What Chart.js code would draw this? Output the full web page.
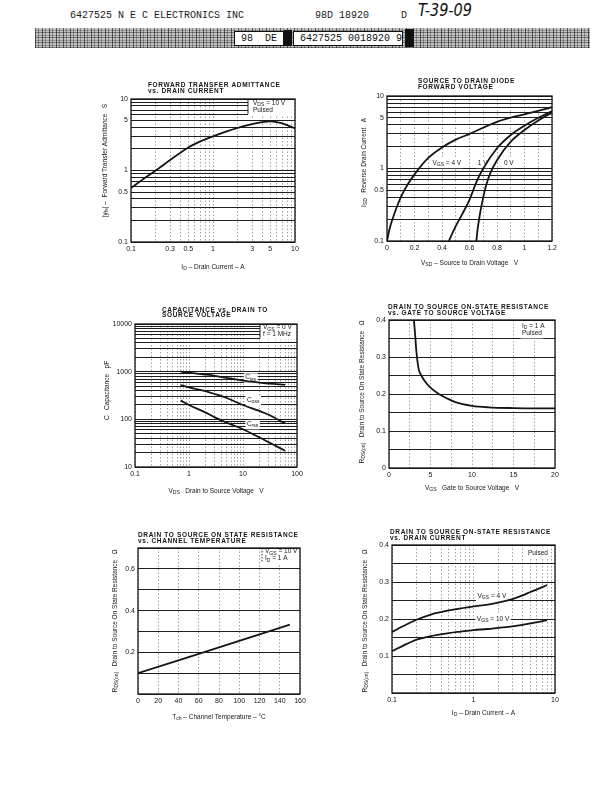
<!DOCTYPE html>
<html>
<head>
<meta charset="utf-8">
<script src="https://cdn.jsdelivr.net/npm/chart.js@4.4.1/dist/chart.umd.min.js"></script>
<style>
body { margin: 0; background: #fff; width: 614px; height: 792px; position: relative; overflow: hidden; }
canvas { position: absolute; }
.hd { position: absolute; font-family: "Liberation Mono", "DejaVu Sans Mono", monospace; color: #1a1a1a; white-space: pre; }
#band { position: absolute; left: 35px; top: 28px; width: 555px; height: 20px;
  background:
    repeating-linear-gradient(90deg, rgba(0,0,0,.55) 0 1px, transparent 1px 3px, rgba(0,0,0,.3) 3px 4px, transparent 4px 7px),
    repeating-linear-gradient(0deg, rgba(0,0,0,.4) 0 1px, transparent 1px 2px, rgba(0,0,0,.25) 2px 3px, transparent 3px 5px),
    #c4c4c4; }
.wbox { position: absolute; background: #fff; border: 1px solid #111; font-family: "Liberation Mono", monospace; font-size: 10px; line-height: 13px; white-space: pre; color: #111; }
.blk { position: absolute; background: #111; }
</style>
</head>
<body>
<div class="hd" style="left:70px;top:10px;font-size:10px;">6427525 N E C ELECTRONICS INC</div>
<div class="hd" style="left:315px;top:10px;font-size:10px;">98D 18920</div>
<div class="hd" style="left:401px;top:10px;font-size:10px;">D</div>
<div style="position:absolute;left:418px;top:0px;font:italic 17px 'DejaVu Sans';color:#111;transform:scaleX(0.85);transform-origin:left;">T-39-09</div>
<div id="band"></div>
<div class="wbox" style="left:234px;top:31px;width:48px;height:13px;"> 98  DE</div>
<div class="blk" style="left:284px;top:30px;width:8px;height:16px;"></div>
<div class="wbox" style="left:293px;top:31px;width:108px;height:13px;"> 6427525 0018920 9</div>
<div class="blk" style="left:405px;top:29px;width:9px;height:18px;"></div>

<canvas id="c1"></canvas>
<canvas id="c2"></canvas>
<canvas id="c3"></canvas>
<canvas id="c4"></canvas>
<canvas id="c5"></canvas>
<canvas id="c6"></canvas>

<script>
// forward transfer admittance vs drain current (VDS = 10 V, pulsed)
const yfsCurrent = [0.1, 0.15, 0.2, 0.3, 0.5, 0.7, 1, 1.5, 2, 3, 4, 5, 7, 10];
const yfsValue   = [0.57, 0.8, 1.0, 1.4, 2.1, 2.55, 3.0, 3.55, 3.95, 4.45, 4.75, 4.85, 4.55, 3.9];

// source to drain diode forward voltage
const vsdAt4V = [0, 0.02, 0.04, 0.07, 0.1, 0.15, 0.2, 0.3, 0.4, 0.5, 0.6, 0.8, 1.0, 1.2];
const isdAt4V = [0.1, 0.15, 0.2, 0.29, 0.4, 0.6, 0.83, 1.4, 1.95, 2.5, 3.0, 4.4, 5.6, 7.0];
const vsdAt1V = [0.45, 0.5, 0.55, 0.6, 0.65, 0.7, 0.8, 0.9, 1.0, 1.1, 1.2];
const isdAt1V = [0.1, 0.16, 0.24, 0.37, 0.65, 1.0, 1.9, 2.9, 3.9, 5.0, 6.2];
const vsdAt0V = [0.65, 0.66, 0.68, 0.7, 0.72, 0.75, 0.8, 0.9, 1.0, 1.1, 1.2];
const isdAt0V = [0.1, 0.15, 0.26, 0.4, 0.58, 0.85, 1.3, 2.35, 3.4, 4.6, 5.9];

// capacitance vs drain to source voltage
const capVds = [0.7, 1, 2, 3, 5, 10, 20, 30, 60];
const cissPf = [1000, 950, 870, 820, 740, 650, 590, 560, 530];
const cossPf = [520, 470, 390, 340, 280, 200, 150, 125, 82];
const crssPf = [250, 200, 140, 110, 85, 62, 42, 33, 22];

// on-state resistance vs gate voltage (ID = 1 A)
const rgVgs = [3.0, 3.15, 3.3, 3.45, 3.6, 3.9, 4.3, 5, 6, 7, 8, 10, 12, 15, 20];
const rgRds = [0.4, 0.36, 0.315, 0.285, 0.265, 0.25, 0.235, 0.217, 0.2, 0.188, 0.178, 0.168, 0.164, 0.162, 0.161];

// on-state resistance vs channel temperature
const rtTemp = [0, 50, 100, 150];
const rtRds  = [0.1, 0.177, 0.255, 0.333];

// on-state resistance vs drain current
const riCurrent = [0.1, 0.15, 0.2, 0.3, 0.5, 0.7, 1, 1.5, 2, 3, 4, 5, 7, 8];
const riAt4V    = [0.165, 0.185, 0.198, 0.212, 0.223, 0.229, 0.234, 0.239, 0.244, 0.254, 0.264, 0.273, 0.286, 0.292];
const riAt10V   = [0.113, 0.132, 0.144, 0.154, 0.162, 0.166, 0.17, 0.173, 0.176, 0.18, 0.184, 0.188, 0.194, 0.197];

// tick labels
const t1x = [0.1, 0.3, 0.5, 1, 3, 5, 10], t1y = [0.1, 0.5, 1, 5, 10];
const t2x = [0, 0.2, 0.4, 0.6, 0.8, 1.0, 1.2], t2y = [0.1, 0.5, 1, 5, 10];
const t3x = [0.1, 1, 10, 100], t3y = [10, 100, 1000, 10000];
const t4x = [0, 5, 10, 15, 20], t4y = [0, 0.1, 0.2, 0.3, 0.4];
const t5x = [0, 20, 40, 60, 80, 100, 120, 140, 160], t5y = [0.2, 0.4, 0.6];
const t6x = [0.1, 1, 10], t6y = [0.1, 0.2, 0.3, 0.4];

const FAM = '"Liberation Sans", Arial, sans-serif';
const INK = '#151515';

function logGrid(min, max) {
  const out = [];
  for (let e = Math.floor(Math.log10(min)); e <= Math.ceil(Math.log10(max)); e++) {
    for (let m = 1; m <= 9; m++) {
      const v = +(m * Math.pow(10, e)).toPrecision(6);
      if (v >= min - 1e-9 && v <= max + 1e-9) out.push(v);
    }
  }
  return out;
}
function linGrid(min, max, step) {
  const out = [];
  for (let i = 0; min + i * step <= max + 1e-9; i++) out.push(+(min + i * step).toFixed(4));
  return out;
}

// draws text made of [text, isSubscript] parts; mode 'bg' paints only the white patch behind it
function rich(ctx, parts, x, y, size, align, weight, spacing, mode) {
  const sub = size * 0.78;
  ctx.letterSpacing = (spacing || 0) + 'px';
  const font = s => (weight ? weight + ' ' : '') + s + 'px ' + FAM;
  let w = 0;
  const widths = parts.map(([t, s]) => { ctx.font = font(s ? sub : size); const m = ctx.measureText(t).width; w += m; return m; });
  let cx = align === 'center' ? x - w / 2 : align === 'right' ? x - w : x;
  if (mode === 'bg') {
    ctx.fillStyle = '#fff';
    ctx.fillRect(cx - 1.5, y - size * 0.62, w + 3, size * 1.45);
  } else {
    ctx.fillStyle = INK;
    ctx.textBaseline = 'middle';
    ctx.textAlign = 'left';
    parts.forEach(([t, s], i) => {
      ctx.font = font(s ? sub : size);
      ctx.fillText(t, cx, y + (s ? size * 0.3 : 0));
      cx += widths[i];
    });
  }
  ctx.letterSpacing = '0px';
}

function notePos(chart, n) {
  const a = chart.chartArea;
  if (n.data) return [chart.scales.x.getPixelForValue(n.x), chart.scales.y.getPixelForValue(n.y)];
  return [a.left + n.x, a.top + n.y];
}

const sheet = {
  id: 'sheet',
  beforeDatasetsDraw(chart, args, o) {
    const ctx = chart.ctx, a = chart.chartArea;
    ctx.save();
    (o.boxes || []).forEach(b => {
      ctx.fillStyle = '#fff';
      ctx.fillRect(a.left + b.x, a.top + 1, b.w, b.h);
    });
    (o.notes || []).forEach(n => {
      if (!n.bg) return;
      const [x, y] = notePos(chart, n);
      rich(ctx, n.parts, x, y, 6.5, 'left', '', 0, 'bg');
    });
    ctx.restore();
  },
  afterDraw(chart, args, o) {
    const ctx = chart.ctx, a = chart.chartArea;
    ctx.save();
    (o.boxes || []).forEach(b => {
      ctx.strokeStyle = INK; ctx.lineWidth = 0.9;
      ctx.setLineDash(b.dash || []);
      ctx.beginPath(); ctx.moveTo(a.left + b.x, a.top); ctx.lineTo(a.left + b.x, a.top + b.h); ctx.stroke();
      ctx.setLineDash([]);
    });
    ctx.strokeStyle = INK; ctx.lineWidth = 1.3;
    ctx.strokeRect(a.left, a.top, a.right - a.left, a.bottom - a.top);
    o.title.forEach((t, i) => rich(ctx, [[t, 0]], a.left + o.tx, a.top + o.ty[i], 6.5, 'left', 'bold', 0.65));
    rich(ctx, o.xTitle, (a.left + a.right) / 2 + (o.xdx || 0), a.bottom + o.xdy, 6.5, 'center');
    ctx.save();
    ctx.translate(a.left + o.ydx, (a.top + a.bottom) / 2 + (o.ydy || 0));
    ctx.rotate(-Math.PI / 2);
    rich(ctx, o.yTitle, 0, 0, 6.5, 'center');
    ctx.restore();
    (o.notes || []).forEach(n => {
      const [x, y] = notePos(chart, n);
      rich(ctx, n.parts, x, y, 6.5, 'left');
    });
    ctx.restore();
  }
};
Chart.register(sheet);

const PAD_L = 30, AX_Y = 22, PAD_T = 25, PAD_R = 10, AX_X = 12, PAD_B = 18;

function pick(labels) {
  return v => {
    const hit = labels.find(l => Math.abs(l - v) < 1e-7);
    return hit === undefined ? '' : String(hit);
  };
}

function build(id, rect, s) {
  const [L, T, W, H] = rect;
  const cv = document.getElementById(id);
  cv.width = W + PAD_L + AX_Y + PAD_R;
  cv.height = H + PAD_T + AX_X + PAD_B;
  cv.style.left = (L - PAD_L - AX_Y) + 'px';
  cv.style.top = (T - PAD_T) + 'px';
  const tickFont = { size: 7, family: FAM };
  return new Chart(cv, {
    type: 'line',
    data: {
      datasets: s.series.map(ser => ({
        data: ser.x.map((x, i) => ({ x, y: ser.y[i] })),
        borderColor: INK,
        borderWidth: 1.8,
        pointRadius: 0,
        fill: false,
        tension: ser.straight ? 0 : 0.4,
        cubicInterpolationMode: ser.straight ? 'default' : 'monotone'
      }))
    },
    options: {
      responsive: false,
      animation: false,
      events: [],
      layout: { padding: { left: PAD_L, top: PAD_T, right: PAD_R, bottom: PAD_B } },
      plugins: { legend: { display: false }, tooltip: { enabled: false }, sheet: s.sheet },
      scales: {
        x: {
          type: s.xType, min: s.xMin, max: s.xMax,
          afterBuildTicks: ax => { ax.ticks = s.xGrid.map(v => ({ value: v })); },
          afterFit: ax => { ax.height = AX_X; },
          grid: { color: '#8a8a8a', lineWidth: 0.8, drawTicks: false, borderDash: [1.5, 2] },
          border: { display: false, dash: [1.5, 2] },
          ticks: { autoSkip: false, maxRotation: 0, padding: 3, font: tickFont, color: INK, callback: pick(s.xLabels) }
        },
        y: {
          type: s.yType, min: s.yMin, max: s.yMax,
          afterBuildTicks: ax => { ax.ticks = s.yGrid.map(v => ({ value: v })); },
          afterFit: ax => { ax.width = AX_Y; },
          grid: { color: '#1e1e1e', lineWidth: 1, drawTicks: false },
          border: { display: false },
          ticks: { autoSkip: false, padding: 3, font: tickFont, color: INK, callback: pick(s.yLabels) }
        }
      }
    }
  });
}

const rdsTitle = [['R', 0], ['DS(on)', 1], ['   Drain to Source On State Resistance   Ω', 0]];

build('c1', [131, 99, 164, 143], {
  xType: 'logarithmic', xMin: 0.1, xMax: 10, xGrid: logGrid(0.1, 10), xLabels: t1x,
  yType: 'logarithmic', yMin: 0.1, yMax: 10, yGrid: logGrid(0.1, 10), yLabels: t1y,
  series: [{ x: yfsCurrent, y: yfsValue }],
  sheet: {
    title: ['FORWARD TRANSFER ADMITTANCE', 'vs. DRAIN CURRENT'], tx: 17, ty: [-14, -8],
    xTitle: [['I', 0], ['D', 1], [' – Drain Current – A', 0]], xdy: 25,
    yTitle: [['|y', 0], ['fs', 1], ['| –  Forward Transfer Admittance   S', 0]], ydx: -26, ydy: -10,
    boxes: [{ x: 117, w: 47, h: 15 }],
    notes: [
      { x: 122, y: 4, parts: [['V', 0], ['DS', 1], [' = 10 V', 0]] },
      { x: 122, y: 11.5, parts: [['Pulsed', 0]] }
    ]
  }
});

build('c2', [387, 96, 165, 145], {
  xType: 'linear', xMin: 0, xMax: 1.2, xGrid: linGrid(0, 1.2, 0.1), xLabels: t2x,
  yType: 'logarithmic', yMin: 0.1, yMax: 10, yGrid: logGrid(0.1, 10), yLabels: t2y,
  series: [{ x: vsdAt4V, y: isdAt4V }, { x: vsdAt1V, y: isdAt1V }, { x: vsdAt0V, y: isdAt0V }],
  sheet: {
    title: ['SOURCE TO DRAIN DIODE', 'FORWARD VOLTAGE'], tx: 31, ty: [-15, -8.5],
    xTitle: [['V', 0], ['SD', 1], [' – Source to Drain Voltage   V', 0]], xdy: 22,
    yTitle: [['I', 0], ['SD', 1], ['   Reverse Drain Current   A', 0]], ydx: -23, ydy: -6,
    notes: [
      { data: true, x: 0.33, y: 1.2, parts: [['V', 0], ['GS', 1], [' = 4 V', 0]], bg: true },
      { data: true, x: 0.66, y: 1.2, parts: [['1 V', 0]], bg: true },
      { data: true, x: 0.85, y: 1.2, parts: [['0 V', 0]], bg: true }
    ]
  }
});

build('c3', [135, 324, 162, 143], {
  xType: 'logarithmic', xMin: 0.1, xMax: 100, xGrid: logGrid(0.1, 100), xLabels: t3x,
  yType: 'logarithmic', yMin: 10, yMax: 10000, yGrid: logGrid(10, 10000), yLabels: t3y,
  series: [{ x: capVds, y: cissPf }, { x: capVds, y: cossPf }, { x: capVds, y: crssPf }],
  sheet: {
    title: ['CAPACITANCE vs. DRAIN TO', 'SOURCE VOLTAGE'], tx: 27, ty: [-14, -8.5],
    xTitle: [['V', 0], ['DS', 1], ['   Drain to Source Voltage   V', 0]], xdy: 24,
    yTitle: [['C   Capacitance   pF', 0]], ydx: -28, ydy: -5,
    boxes: [{ x: 125, w: 37, h: 14 }],
    notes: [
      { x: 128, y: 3.5, parts: [['V', 0], ['GS', 1], [' = 0 V', 0]] },
      { x: 128, y: 10.5, parts: [['f = 1 MHz', 0]] },
      { data: true, x: 11, y: 760, parts: [['C', 0], ['iss', 1]], bg: true },
      { data: true, x: 11.8, y: 255, parts: [['C', 0], ['oss', 1]], bg: true },
      { data: true, x: 11.8, y: 80, parts: [['C', 0], ['rss', 1]], bg: true }
    ]
  }
});

build('c4', [389, 320, 166, 148], {
  xType: 'linear', xMin: 0, xMax: 20, xGrid: linGrid(0, 20, 2.5), xLabels: t4x,
  yType: 'linear', yMin: 0, yMax: 0.4, yGrid: linGrid(0, 0.4, 0.05), yLabels: t4y,
  series: [{ x: rgVgs, y: rgRds }],
  sheet: {
    title: ['DRAIN TO SOURCE ON-STATE RESISTANCE', 'vs. GATE TO SOURCE VOLTAGE'], tx: -1, ty: [-13, -7],
    xTitle: [['V', 0], ['GS', 1], ['   Gate to Source Voltage   V', 0]], xdy: 20,
    yTitle: rdsTitle, ydx: -27, ydy: -2,
    notes: [
      { x: 133, y: 6, parts: [['I', 0], ['D', 1], [' = 1 A', 0]], bg: true },
      { x: 133, y: 13, parts: [['Pulsed', 0]], bg: true }
    ]
  }
});

build('c5', [138, 548, 162, 146], {
  xType: 'linear', xMin: 0, xMax: 160, xGrid: linGrid(0, 160, 20), xLabels: t5x,
  yType: 'linear', yMin: 0, yMax: 0.7, yGrid: linGrid(0, 0.7, 0.1), yLabels: t5y,
  series: [{ x: rtTemp, y: rtRds, straight: true }],
  sheet: {
    title: ['DRAIN TO SOURCE ON STATE RESISTANCE', 'vs. CHANNEL TEMPERATURE'], tx: 0, ty: [-13, -7],
    xTitle: [['T', 0], ['ch', 1], [' – Channel Temperature – °C', 0]], xdy: 23,
    yTitle: rdsTitle, ydx: -23, ydy: 0,
    boxes: [{ x: 124, w: 38, h: 15, dash: [1.5, 1.5] }],
    notes: [
      { x: 127, y: 3.5, parts: [['V', 0], ['GS', 1], [' = 10 V', 0]] },
      { x: 127, y: 10.5, parts: [['I', 0], ['D', 1], [' = 1 A', 0]] }
    ]
  }
});

build('c6', [392, 545, 163, 148], {
  xType: 'logarithmic', xMin: 0.1, xMax: 10, xGrid: logGrid(0.1, 10), xLabels: t6x,
  yType: 'linear', yMin: 0, yMax: 0.4, yGrid: linGrid(0, 0.4, 0.05), yLabels: t6y,
  series: [{ x: riCurrent, y: riAt4V }, { x: riCurrent, y: riAt10V }],
  sheet: {
    title: ['DRAIN TO SOURCE ON-STATE RESISTANCE', 'vs. DRAIN CURRENT'], tx: -2, ty: [-13, -7],
    xTitle: [['I', 0], ['D', 1], [' – Drain Current – A', 0]], xdy: 20, xdx: 10,
    yTitle: rdsTitle, ydx: -27, ydy: 2,
    notes: [
      { x: 136, y: 8, parts: [['Pulsed', 0]], bg: true },
      { data: true, x: 1.12, y: 0.262, parts: [['V', 0], ['GS', 1], [' = 4 V', 0]], bg: true },
      { data: true, x: 1.1, y: 0.2, parts: [['V', 0], ['GS', 1], [' = 10 V', 0]], bg: true }
    ]
  }
});
</script>
</body>
</html>
